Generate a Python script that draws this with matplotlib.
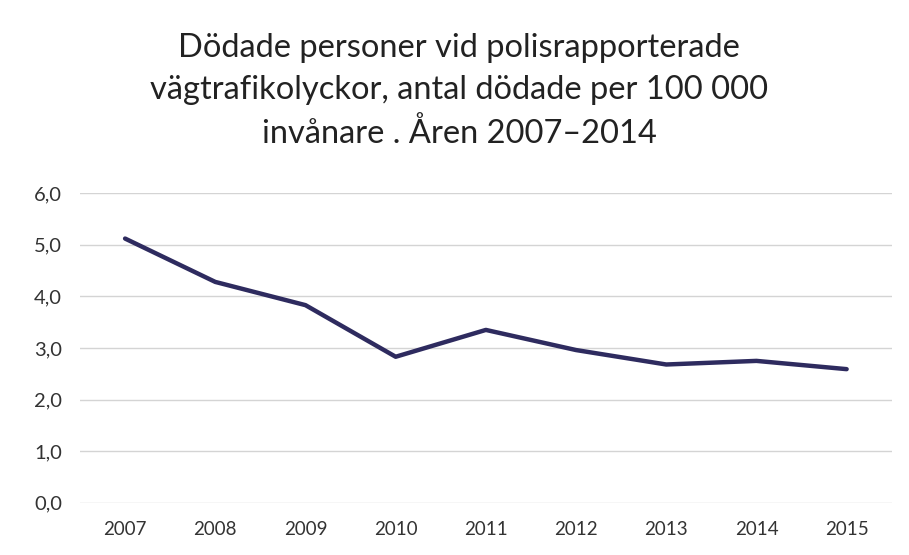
import matplotlib.pyplot as plt

plt.rcParams["font.family"] = ["Lato", "DejaVu Sans"]

# Dödade per 100 000 invånare
years = ["2007", "2008", "2009", "2010", "2011", "2012", "2013", "2014", "2015"]
deaths_per_100k = [5.12, 4.28, 3.83, 2.83, 3.35, 2.96, 2.68, 2.75, 2.59]

y_ticks = [0, 1, 2, 3, 4, 5, 6]
y_tick_labels = ["0,0", "1,0", "2,0", "3,0", "4,0", "5,0", "6,0"]

fig = plt.figure(figsize=(9.09, 5.55), dpi=100)
ax = fig.add_axes([0.088, 0.094, 0.893, 0.558])

x = list(range(len(years)))
ax.plot(x, deaths_per_100k, color="#2e2b5f", linewidth=3.2,
        solid_capstyle="round", solid_joinstyle="round", zorder=3)

ax.set_xlim(-0.5, len(years) - 0.5)
ax.set_ylim(0, 6)
ax.set_xticks(x)
ax.set_xticklabels(years)
ax.set_yticks(y_ticks)
ax.set_yticklabels(y_tick_labels)

ax.grid(axis="y", color="#d4d4d4", linewidth=1.0)
ax.set_axisbelow(True)
for side in ["top", "right", "bottom", "left"]:
    ax.spines[side].set_visible(False)
ax.tick_params(axis="both", length=0, labelsize=13.5, labelcolor="#333333")
ax.tick_params(axis="x", pad=13)
ax.tick_params(axis="y", labelsize=14.5, pad=13)

fig.text(0.505, 0.94,
         "Dödade personer vid polisrapporterade\n"
         "vägtrafikolyckor, antal dödade per 100 000\n"
         "invånare . Åren 2007–2014",
         ha="center", va="top", fontsize=23.5, color="#222222",
         linespacing=1.5)

fig.savefig("out.png", dpi=100)
